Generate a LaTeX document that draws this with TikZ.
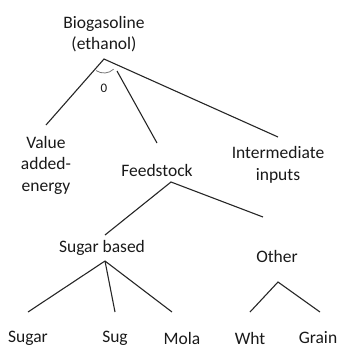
\documentclass[tikz,border=0pt]{standalone}
\usepackage{fontspec}
\setmainfont{Carlito}
\begin{document}
\begin{tikzpicture}[x=1pt,y=-1pt,
  lbl/.style={inner sep=0pt,font=\fontsize{17.5}{21.5}\selectfont,align=center,text=black!90},
  branch/.style={draw=black!85,line width=1.1pt},
  nestarc/.style={draw=black!55,line width=0.8pt}]
\useasboundingbox (0,0) rectangle (339,349);

% labels
\node[lbl] (bio) at (104,34) {Biogasoline\\(ethanol)};
\node[lbl] (val) at (46,165) {Value\\added-\\energy};
\node[lbl] (feed) at (157,170) {Feedstock};
\node[lbl] (inter) at (278,165) {Intermediate\\inputs};
\node[lbl] (sugb) at (102,248) {Sugar based};
\node[lbl] (oth) at (277,256) {Other};
\node[lbl] (sugar) at (28,338) {Sugar};
\node[lbl] (sug) at (115,338) {Sug};
\node[lbl] (mola) at (182,338) {Mola};
\node[lbl] (wht) at (250,338) {Wht};
\node[lbl] (grain) at (318,338) {Grain};
\node[lbl,font=\fontsize{13}{15}\selectfont] (zero) at (104,88) {0};

% branch points and line ends
\coordinate (a0) at (104,59);
\coordinate (a0v) at (46,125);
\coordinate (a0fs) at (117,71);
\coordinate (a0f) at (157,143);
\coordinate (a0i) at (278,137);
\coordinate (a1) at (171,182);
\coordinate (a1s) at (105,235);
\coordinate (a1o) at (263,217);
\coordinate (a2) at (105,261);
\coordinate (a2a) at (28,312);
\coordinate (a2b) at (115,312);
\coordinate (a2c) at (172,312);
\coordinate (a3) at (278,282);
\coordinate (a3a) at (250,312);
\coordinate (a3b) at (320,312);

% top level
\draw[branch] (a0v) -- (a0) -- (a0i);
\draw[branch] (a0fs) -- (a0f);
\draw[nestarc] (a0) ++(124:14) arc[start angle=124,end angle=47,radius=14];

% feedstock split
\draw[branch] (a1s) -- (a1) -- (a1o);

% sugar based split
\draw[branch] (a2) -- (a2a);
\draw[branch] (a2) -- (a2b);
\draw[branch] (a2) -- (a2c);

% other split
\draw[branch] (a3a) -- (a3) -- (a3b);
\end{tikzpicture}
\end{document}
